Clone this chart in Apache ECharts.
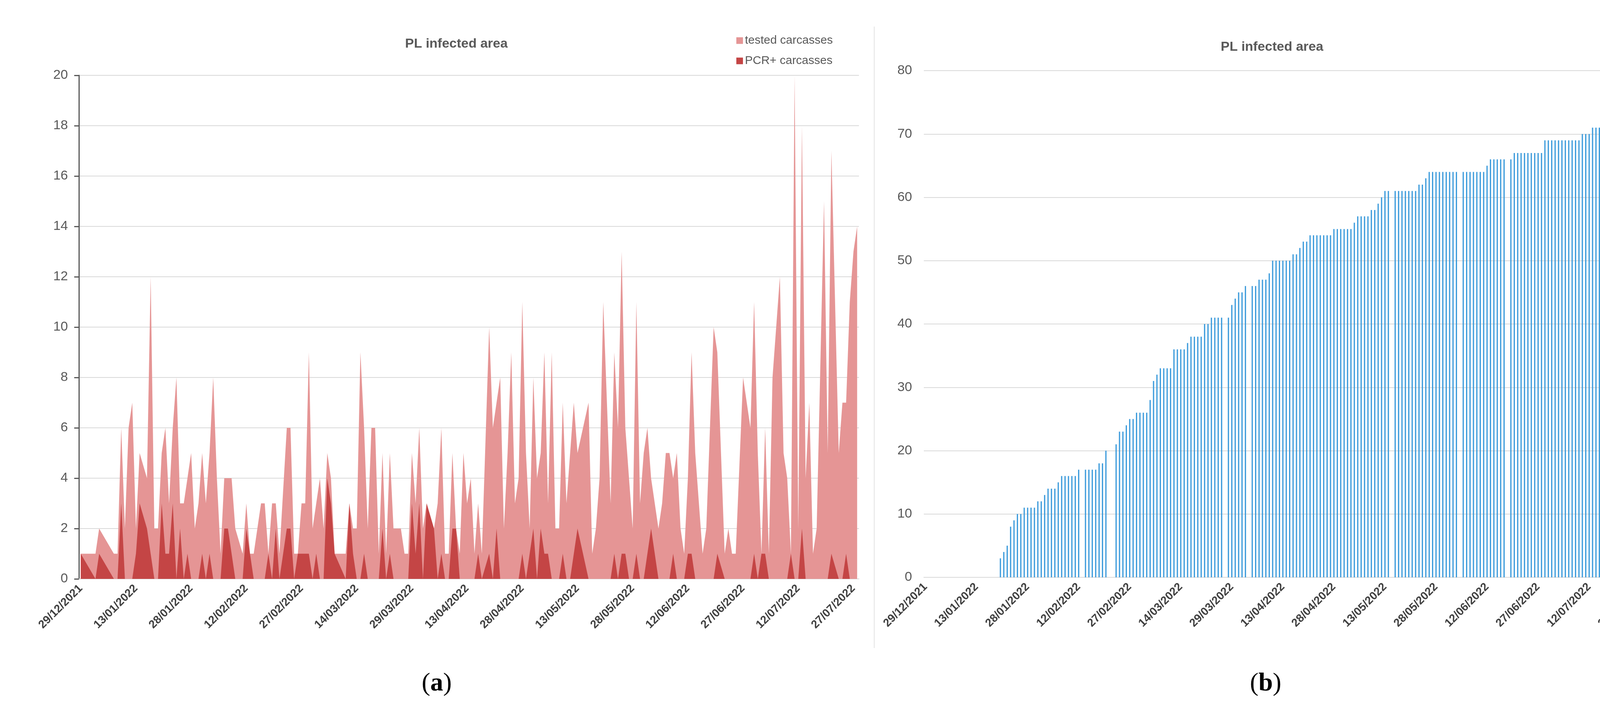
<!DOCTYPE html>
<html>
<head>
<meta charset="utf-8">
<script src="https://cdn.jsdelivr.net/npm/echarts@6/dist/echarts.min.js"></script>
<style>html,body{margin:0;padding:0;background:#fff;overflow:hidden;}#c{width:4251px;height:1824px;}</style>
</head>
<body>
<div id="c"></div>
<script>
// ---- data ----
const startDate = '2021-12-29';
const dayCount = 212;
const chartTitle = 'PL infected area';
const seriesNames = ['tested carcasses', 'PCR+ carcasses'];

const tested = [
  1,null,null,null,1,2,null,null,null,1,
  1,6,2,6,7,2,5,null,4,12,
  2,2,5,6,3,6,8,3,3,4,
  5,2,3,5,3,5,8,4,1,4,
  4,4,2,null,1,3,1,1,2,3,
  3,1,3,3,1,null,6,6,1,1,
  3,3,9,2,3,4,2,5,4,1,
  null,null,1,3,2,2,9,6,2,6,
  6,1,5,1,5,2,2,2,1,1,
  5,3,6,2,3,null,2,3,6,1,
  1,5,2,1,5,3,4,1,3,1,
  null,10,6,7,8,2,5,9,3,4,
  11,5,2,8,4,5,9,3,9,2,
  2,7,3,5,7,5,null,null,7,1,
  2,4,11,null,3,9,6,13,6,4,
  2,11,3,5,6,4,3,2,3,5,
  5,4,5,2,1,4,9,5,3,1,
  2,null,10,9,null,1,2,1,1,null,
  8,7,6,11,5,1,6,1,8,null,
  12,5,4,1,20,2,18,4,7,1,
  2,null,15,5,17,null,5,7,7,11,
  13,14
];

const pcrPositive = [
  1,null,null,null,0,1,null,null,null,0,
  0,3,0,0,0,1,3,null,2,1,
  0,0,3,1,1,3,0,2,0,1,
  0,0,0,1,0,1,0,0,0,2,
  2,1,0,null,0,2,1,0,0,0,
  0,1,0,2,0,null,2,2,0,1,
  1,1,1,0,1,0,0,4,3,1,
  null,null,0,3,1,0,0,1,0,0,
  0,0,2,0,1,0,0,0,0,0,
  3,1,3,0,3,null,2,0,1,0,
  0,2,2,0,0,0,0,0,1,0,
  null,1,0,2,0,0,0,0,0,0,
  1,0,1,2,0,2,1,1,0,0,
  0,1,0,0,1,2,null,null,0,0,
  0,0,0,null,0,1,0,1,1,0,
  0,1,0,0,1,2,1,0,0,0,
  0,1,0,0,0,1,1,0,0,0,
  0,null,0,1,null,0,0,0,0,null,
  0,0,0,1,0,1,1,0,0,null,
  0,0,0,1,0,0,2,0,0,0,
  0,null,0,0,1,null,0,0,1,0,
  0,0
];

const cumulative = [
  null,null,null,null,null,null,null,null,null,null,
  null,null,null,null,null,null,null,null,null,null,
  null,null,3,4,5,8,9,10,10,11,
  11,11,11,12,12,13,14,14,14,15,
  16,16,16,16,16,17,null,17,17,17,
  17,18,18,20,null,null,21,23,23,24,
  25,25,26,26,26,26,28,31,32,33,
  33,33,33,36,36,36,36,37,38,38,
  38,38,40,40,41,41,41,41,null,41,
  43,44,45,45,46,null,46,46,47,47,
  47,48,50,50,50,50,50,50,51,51,
  52,53,53,54,54,54,54,54,54,54,
  55,55,55,55,55,55,56,57,57,57,
  57,58,58,59,60,61,61,null,61,61,
  61,61,61,61,61,62,62,63,64,64,
  64,64,64,64,64,64,64,null,64,64,
  64,64,64,64,64,65,66,66,66,66,
  66,null,66,67,67,67,67,67,67,67,
  67,67,69,69,69,69,69,69,69,69,
  69,69,69,70,70,70,71,71,71,71,
  71,71,71,71,71,71,71,72,72,72,
  72,72
];

// ---- categories (daily dates) ----
function buildDates(start, n) {
  const out = [];
  const d = new Date(start + 'T00:00:00Z');
  for (let i = 0; i < n; i++) {
    const dd = String(d.getUTCDate()).padStart(2, '0');
    const mm = String(d.getUTCMonth() + 1).padStart(2, '0');
    out.push(dd + '/' + mm + '/' + d.getUTCFullYear());
    d.setUTCDate(d.getUTCDate() + 1);
  }
  return out;
}
const dates = buildDates(startDate, dayCount);

// ---- styles ----
const FONT = "'Liberation Sans', Arial, sans-serif";
const GRID_COLOR = '#d9d9d9';
const TEXT_GRAY = '#595959';

const xLabel = {
  interval: 14, rotate: 45, margin: 20,
  fontFamily: FONT, fontWeight: 'bold', fontSize: 29, color: '#404040'
};

const chart = echarts.init(document.getElementById('c'), null, {renderer: 'canvas', width: 4251, height: 1824});
chart.setOption({
  animation: false,
  backgroundColor: '#ffffff',
  title: [
    {text: chartTitle, left: 1037, top: 96, padding: 0,
     textStyle: {fontFamily: FONT, fontWeight: 'bold', fontSize: 34, color: TEXT_GRAY}},
    {text: chartTitle, left: 3125, top: 104, padding: 0,
     textStyle: {fontFamily: FONT, fontWeight: 'bold', fontSize: 34, color: TEXT_GRAY}}
  ],
  legend: {
    data: seriesNames, orient: 'vertical', left: 1880, top: 84,
    icon: 'rect', itemWidth: 17, itemHeight: 17, itemGap: 22, itemStyle: {borderWidth: 0},
    textStyle: {fontFamily: FONT, fontSize: 30, color: TEXT_GRAY}
  },
  grid: [
    {left: 202, top: 193, width: 1997, height: 1290},
    {left: 2365, top: 181, width: 1847, height: 1298}
  ],
  xAxis: [
    {type: 'category', gridIndex: 0, data: dates, boundaryGap: true,
     axisLine: {lineStyle: {color: GRID_COLOR, width: 2}},
     axisTick: {interval: 14, length: 8, lineStyle: {color: GRID_COLOR, width: 2}},
     axisLabel: xLabel},
    {type: 'category', gridIndex: 1, data: dates, boundaryGap: true,
     axisLine: {lineStyle: {color: GRID_COLOR, width: 2}},
     axisTick: {show: false},
     axisLabel: xLabel}
  ],
  yAxis: [
    {type: 'value', gridIndex: 0, min: 0, max: 20, interval: 2,
     axisLine: {show: true, lineStyle: {color: '#595959', width: 3}},
     axisTick: {show: true, length: 12, lineStyle: {color: '#595959', width: 3}},
     axisLabel: {margin: 28, fontFamily: FONT, fontSize: 34, color: TEXT_GRAY},
     splitLine: {lineStyle: {color: GRID_COLOR, width: 2}}},
    {type: 'value', gridIndex: 1, min: 0, max: 80, interval: 10,
     axisLine: {show: false}, axisTick: {show: false},
     axisLabel: {margin: 30, fontFamily: FONT, fontSize: 34, color: TEXT_GRAY},
     splitLine: {lineStyle: {color: GRID_COLOR, width: 2}}}
  ],
  series: [
    {name: seriesNames[0], type: 'line', xAxisIndex: 0, yAxisIndex: 0, data: tested,
     connectNulls: true, symbol: 'none', lineStyle: {width: 0, color: '#E59595'},
     itemStyle: {color: '#E59595'}, areaStyle: {color: '#E59595', opacity: 1}, z: 2},
    {name: seriesNames[1], type: 'line', xAxisIndex: 0, yAxisIndex: 0, data: pcrPositive,
     connectNulls: true, symbol: 'none', lineStyle: {width: 0, color: '#C44545'},
     itemStyle: {color: '#C44545'}, areaStyle: {color: '#C44545', opacity: 1}, z: 3},
    {name: 'cumulative', type: 'bar', xAxisIndex: 1, yAxisIndex: 1, data: cumulative,
     barWidth: '36%', itemStyle: {color: '#3A9ADB'}}
  ],
  graphic: [
    {type: 'line', shape: {x1: 2238, y1: 68, x2: 2238, y2: 1660},
     style: {stroke: '#e2e2e2', lineWidth: 2}},
    {type: 'text', x: 1118, y: 1752,
     style: {text: '({b|a})', rich: {b: {fontWeight: 'bold', fontFamily: "'Liberation Serif', serif", fontSize: 66, fill: '#000'}},
             fontFamily: "'Liberation Serif', serif", fontSize: 66, fill: '#000',
             align: 'center', verticalAlign: 'middle'}},
    {type: 'text', x: 3240, y: 1752,
     style: {text: '({b|b})', rich: {b: {fontWeight: 'bold', fontFamily: "'Liberation Serif', serif", fontSize: 66, fill: '#000'}},
             fontFamily: "'Liberation Serif', serif", fontSize: 66, fill: '#000',
             align: 'center', verticalAlign: 'middle'}}
  ]
});
</script>
</body>
</html>
